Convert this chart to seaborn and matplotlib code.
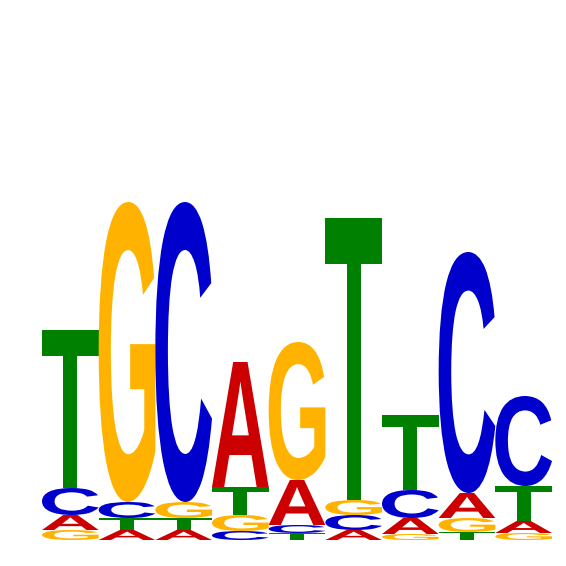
import numpy as np
import matplotlib
matplotlib.use("Agg")
import matplotlib.pyplot as plt
import seaborn as sns
from matplotlib.textpath import TextPath
from matplotlib.patches import PathPatch
from matplotlib.font_manager import FontProperties
from matplotlib.transforms import Affine2D

# letter heights (bits) per position
positions = [1, 2, 3, 4, 5, 6, 7, 8, 9]
height_A = [0.060, 0.040, 0.040, 0.500, 0.180, 0.040, 0.064, 0.100, 0.048]
height_C = [0.108, 0.064, 1.200, 0.036, 0.032, 0.060, 0.112, 0.964, 0.360]
height_G = [0.040, 1.200, 0.064, 0.064, 0.552, 0.060, 0.024, 0.056, 0.028]
height_T = [0.632, 0.048, 0.048, 0.112, 0.028, 1.128, 0.300, 0.032, 0.140]

letter_colors = {"A": "#CC0000", "C": "#0000CC", "G": "#FFB300", "T": "#008000"}

sns.set_style("white")
font = FontProperties(family="Liberation Sans", weight="bold")


def draw_letter(ax, letter, x, y, w, h, color):
    tp = TextPath((0, 0), letter, size=1, prop=font)
    ext = tp.get_extents()
    tr = (Affine2D()
          .translate(-ext.x0, -ext.y0)
          .scale(w / ext.width, h / ext.height)
          .translate(x, y))
    path = tr.transform_path(tp)
    ax.add_patch(PathPatch(path, facecolor=color, edgecolor="none", lw=0))


fig = plt.figure(figsize=(5.66, 5.66), dpi=100)
ax = fig.add_axes([42 / 566, 26 / 566, 510 / 566, 500 / 566])

heights = {"A": height_A, "C": height_C, "G": height_G, "T": height_T}
for i, pos in enumerate(positions):
    stack = sorted(((heights[l][i], l) for l in "ACGT"))
    bottom = 0.0
    for h, l in stack:
        draw_letter(ax, l, pos - 0.5, bottom, 1.0, h, letter_colors[l])
        bottom += h

ax.set_xlim(0.5, len(positions) + 0.5)
ax.set_ylim(0, 2)
ax.axis("off")
sns.despine(left=True, bottom=True)

fig.savefig("out.png", dpi=100, facecolor="white")
plt.close(fig)
